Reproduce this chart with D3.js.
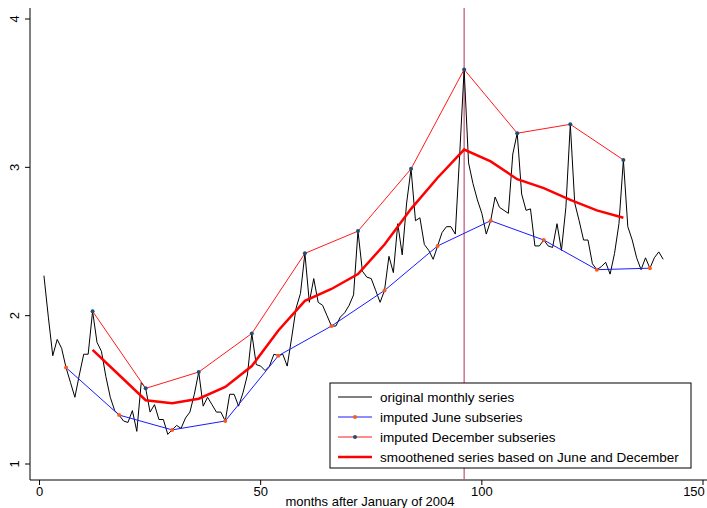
<!DOCTYPE html>
<html><head><meta charset="utf-8">
<script src="https://cdn.jsdelivr.net/npm/d3@7"></script>
<style>body{margin:0;background:#fff}text{font-family:"Liberation Sans",Arial,sans-serif}</style>
</head><body><svg id="c" width="707" height="508"></svg>
<script>
// monthly series, months 1..141
const monthly = [2.27,1.99,1.73,1.84,1.78,1.65,1.55,1.45,1.6,1.74,1.74,2.03,1.82,1.76,1.59,1.45,1.36,1.33,1.29,1.28,1.36,1.22,1.55,1.51,
  1.35,1.4,1.3,1.3,1.2,1.23,1.26,1.24,1.31,1.35,1.47,1.62,1.39,1.45,1.4,1.35,1.35,1.29,1.47,1.47,1.39,1.48,1.6,1.88,
  1.67,1.66,1.63,1.66,1.74,1.73,1.74,1.66,1.85,2.05,2.15,2.42,2.09,2.25,2.09,2.07,2.0,1.93,1.93,1.99,2.02,2.07,2.14,2.57,
  2.3,2.26,2.25,2.17,2.09,2.17,2.4,2.29,2.62,2.41,2.76,2.99,2.64,2.66,2.48,2.44,2.38,2.47,2.56,2.6,2.6,2.55,3.09,3.66,
  3.03,2.89,2.78,2.69,2.55,2.64,2.8,2.73,2.71,2.69,3.09,3.23,2.82,2.71,2.72,2.47,2.47,2.51,2.47,2.46,2.62,2.44,2.73,3.29,
  2.76,2.64,2.51,2.51,2.35,2.31,2.33,2.36,2.28,2.42,2.62,3.05,2.6,2.51,2.39,2.31,2.39,2.32,2.39,2.43,2.38];
const juneMonths = [6,18,30,42,54,66,78,90,102,114,126,138];
const juneValues = [1.65,1.33,1.23,1.29,1.73,1.93,2.17,2.47,2.64,2.51,2.31,2.32];
const decMonths = [12,24,36,48,60,72,84,96,108,120,132];
const decValues = [2.03,1.51,1.62,1.88,2.42,2.57,2.99,3.66,3.23,3.29,3.05];
const smoothMonths = [12,18,24,30,36,42,48,54,60,66,72,78,84,90,96,102,108,114,120,126,132];
const smoothValues = [1.77,1.6,1.43,1.41,1.44,1.52,1.66,1.9,2.1,2.18,2.28,2.48,2.72,2.93,3.12,3.04,2.92,2.86,2.78,2.71,2.66];
const markMonth = 96;
const xTicks = [0,50,100,150];
const yTicks = [1,2,3,4];
const legendLabels = ["original monthly series","imputed June subseries","imputed December subseries","smoothened series based on June and December"];

const svg = d3.select("#c");
const x = d3.scaleLinear().domain([0,150]).range([39.5,703]);
const y = d3.scaleLinear().domain([1,4]).range([464,19]);

// axes
svg.append("line").attr("x1",30).attr("x2",30).attr("y1",8).attr("y2",480).attr("stroke","#000");
svg.append("line").attr("x1",30).attr("x2",707).attr("y1",480).attr("y2",480).attr("stroke","#000");
yTicks.forEach(t => {
  svg.append("line").attr("x1",25).attr("x2",30).attr("y1",y(t)).attr("y2",y(t)).attr("stroke","#000");
  svg.append("text").attr("transform",`translate(19,${y(t)}) rotate(-90)`).attr("text-anchor","middle")
    .attr("font-size",13).text(t);
});
xTicks.forEach(t => {
  svg.append("line").attr("x1",x(t)).attr("x2",x(t)).attr("y1",480).attr("y2",485).attr("stroke","#000");
  svg.append("text").attr("x",Math.min(x(t),694)).attr("y",496).attr("text-anchor","middle").attr("font-size",13).text(t);
});
svg.append("text").attr("x",370).attr("y",506).attr("text-anchor","middle").attr("font-size",13)
  .text("months after January of 2004");

const line = d3.line().x(d => x(d[0])).y(d => y(d[1]));

svg.append("line").attr("x1",x(markMonth)).attr("x2",x(markMonth)).attr("y1",8).attr("y2",480)
  .attr("stroke","#c0507a").attr("stroke-width",1.2);

svg.append("path").attr("d",line(monthly.map((v,i)=>[i+1,v]))).attr("fill","none").attr("stroke","#000").attr("stroke-width",1);
svg.append("path").attr("d",line(juneMonths.map((m,i)=>[m,juneValues[i]]))).attr("fill","none").attr("stroke","#1a1aff").attr("stroke-width",1);
svg.append("path").attr("d",line(decMonths.map((m,i)=>[m,decValues[i]]))).attr("fill","none").attr("stroke","#ff1a1a").attr("stroke-width",1);
svg.append("path").attr("d",line(smoothMonths.map((m,i)=>[m,smoothValues[i]]))).attr("fill","none").attr("stroke","#ff0000").attr("stroke-width",2.5);
svg.selectAll(".jd").data(juneMonths).enter().append("circle").attr("cx",d=>x(d)).attr("cy",(d,i)=>y(juneValues[i])).attr("r",2).attr("fill","#ff5a1a");
svg.selectAll(".dd").data(decMonths).enter().append("circle").attr("cx",d=>x(d)).attr("cy",(d,i)=>y(decValues[i])).attr("r",2).attr("fill","#1f4e79");

// legend
const lg = svg.append("g").attr("transform","translate(330,383)");
lg.append("rect").attr("width",361).attr("height",85).attr("fill","#fff").attr("stroke","#000");
const styles = [["#000",1,null],["#1a1aff",1,"#ff5a1a"],["#ff1a1a",1,"#1f4e79"],["#ff0000",2.5,null]];
legendLabels.forEach((t,i) => {
  const yy = 14 + i*20;
  lg.append("line").attr("x1",8).attr("x2",42).attr("y1",yy).attr("y2",yy).attr("stroke",styles[i][0]).attr("stroke-width",styles[i][1]);
  if (styles[i][2]) lg.append("circle").attr("cx",25).attr("cy",yy).attr("r",2).attr("fill",styles[i][2]);
  lg.append("text").attr("x",50).attr("y",yy+4.5).attr("font-size",13.5).text(t);
});
</script></body></html>
